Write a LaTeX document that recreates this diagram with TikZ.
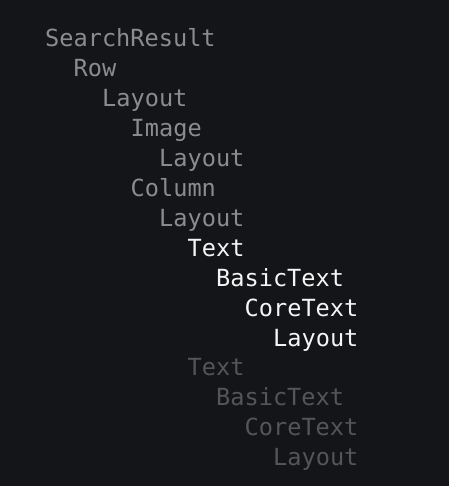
\documentclass[tikz,border=0pt]{standalone}
\usepackage{fontspec}
\setmonofont{DejaVu Sans Mono}
\definecolor{panelBg}{HTML}{141518}
\definecolor{dimGray}{HTML}{8C8C8C}
\definecolor{fadeGray}{HTML}{555555}
\definecolor{hotWhite}{HTML}{F5F5F5}
\tikzset{
  treeItem/.style={
    anchor=base west,
    inner sep=0pt,
    font=\ttfamily\fontsize{23.6}{28}\selectfont
  },
  dimItem/.style={treeItem, text=dimGray},
  hotItem/.style={treeItem, text=hotWhite},
  fadedItem/.style={treeItem, text=fadeGray}
}
\newcommand\indentStep{28.5}
\newcommand\lineStep{29.9}

\begin{document}
\begin{tikzpicture}[x=1pt,y=-1pt]
    % background
    \fill[panelBg] (0,0) rectangle (449,486);
    \useasboundingbox (0,0) rectangle (449,486);

    % composition tree, one line per node
    \foreach \lvl/\txt/\sty [count=\i] in {
      0/SearchResult/dimItem,
      1/Row/dimItem,
      2/Layout/dimItem,
      3/Image/dimItem,
      4/Layout/dimItem,
      3/Column/dimItem,
      4/Layout/dimItem,
      5/Text/hotItem,
      6/BasicText/hotItem,
      7/CoreText/hotItem,
      8/Layout/hotItem,
      5/Text/fadedItem,
      6/BasicText/fadedItem,
      7/CoreText/fadedItem,
      8/Layout/fadedItem} {
      \pgfmathsetmacro\nx{45+\lvl*\indentStep}
      \pgfmathsetmacro\ny{47+(\i-1)*\lineStep}
      \node[\sty] (line\i) at (\nx,\ny) {\txt};
    }
\end{tikzpicture}
\end{document}
